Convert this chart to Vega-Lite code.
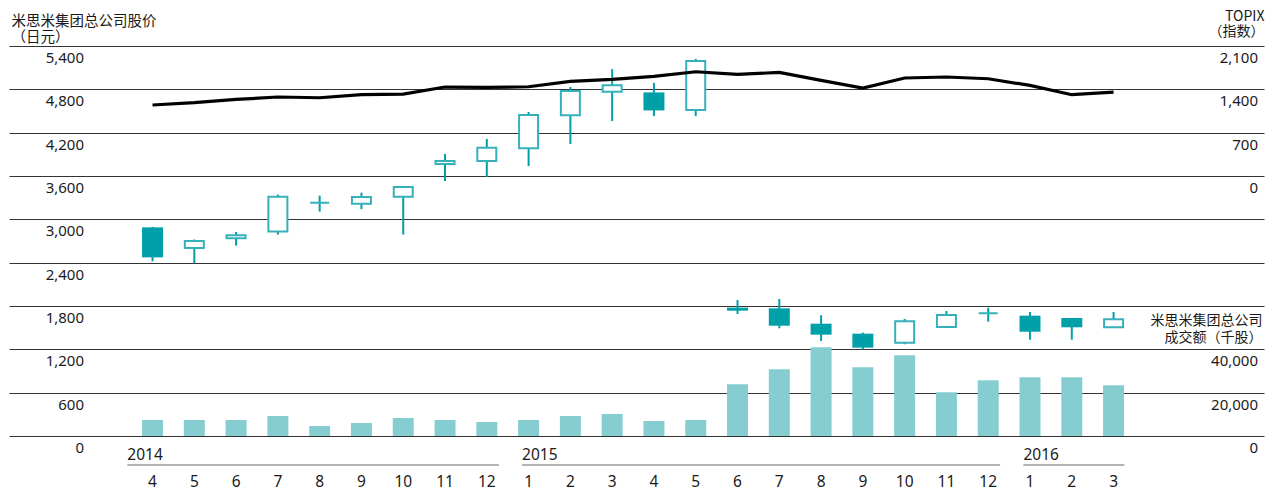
{
  "$schema": "https://vega.github.io/schema/vega-lite/v6.json",
  "width": 1255,
  "height": 390,
  "autosize": {"type": "none"},
  "padding": {"left": 9, "top": 46, "right": 5, "bottom": 51},
  "background": "white",
  "config": {
    "view": {"stroke": null},
    "scale": {"continuousPadding": 0},
    "axis": {"labelFont": "Noto Sans", "titleFont": "Noto Sans CJK SC", "labelColor": "#1a1a1a", "titleColor": "#1a1a1a", "titleFontWeight": "normal"}
  },
  "datasets": {
    "candles": [
      {"idx": 0, "month": "4", "open": 2889, "high": 2895, "low": 2418, "close": 2473, "topix": 1147, "volume": 7390},
      {"idx": 1, "month": "5", "open": 2603, "high": 2720, "low": 2393, "close": 2700, "topix": 1184, "volume": 7390},
      {"idx": 2, "month": "6", "open": 2737, "high": 2825, "low": 2636, "close": 2779, "topix": 1237, "volume": 7390},
      {"idx": 3, "month": "7", "open": 2830, "high": 3342, "low": 2789, "close": 3314, "topix": 1276, "volume": 9240},
      {"idx": 4, "month": "8", "open": 3231, "high": 3328, "low": 3107, "close": 3231, "topix": 1264, "volume": 4620},
      {"idx": 5, "month": "9", "open": 3217, "high": 3369, "low": 3140, "close": 3309, "topix": 1313, "volume": 6000},
      {"idx": 6, "month": "10", "open": 3314, "high": 3461, "low": 2789, "close": 3447, "topix": 1324, "volume": 8310},
      {"idx": 7, "month": "11", "open": 3766, "high": 3905, "low": 3531, "close": 3808, "topix": 1437, "volume": 7390},
      {"idx": 8, "month": "12", "open": 3808, "high": 4113, "low": 3586, "close": 3992, "topix": 1431, "volume": 6470},
      {"idx": 9, "month": "1", "open": 3984, "high": 4487, "low": 3737, "close": 4445, "topix": 1442, "volume": 7390},
      {"idx": 10, "month": "2", "open": 4440, "high": 4834, "low": 4042, "close": 4778, "topix": 1528, "volume": 9240},
      {"idx": 11, "month": "3", "open": 4768, "high": 5080, "low": 4361, "close": 4855, "topix": 1560, "volume": 10160},
      {"idx": 12, "month": "4", "open": 4757, "high": 4890, "low": 4430, "close": 4508, "topix": 1609, "volume": 6930},
      {"idx": 13, "month": "5", "open": 4515, "high": 5221, "low": 4430, "close": 5193, "topix": 1684, "volume": 7390},
      {"idx": 14, "month": "6", "open": 1777, "high": 1883, "low": 1689, "close": 1735, "topix": 1641, "volume": 23880},
      {"idx": 15, "month": "7", "open": 1768, "high": 1897, "low": 1491, "close": 1527, "topix": 1673, "volume": 30810},
      {"idx": 16, "month": "8", "open": 1555, "high": 1671, "low": 1315, "close": 1403, "topix": 1544, "volume": 40970},
      {"idx": 17, "month": "9", "open": 1417, "high": 1431, "low": 1200, "close": 1223, "topix": 1421, "volume": 31730},
      {"idx": 18, "month": "10", "open": 1292, "high": 1620, "low": 1270, "close": 1588, "topix": 1583, "volume": 37270},
      {"idx": 19, "month": "11", "open": 1509, "high": 1731, "low": 1505, "close": 1675, "topix": 1599, "volume": 20180},
      {"idx": 20, "month": "12", "open": 1699, "high": 1777, "low": 1583, "close": 1699, "topix": 1571, "volume": 25730},
      {"idx": 21, "month": "1", "open": 1666, "high": 1717, "low": 1333, "close": 1444, "topix": 1463, "volume": 27120},
      {"idx": 22, "month": "2", "open": 1634, "high": 1634, "low": 1333, "close": 1505, "topix": 1313, "volume": 27120},
      {"idx": 23, "month": "3", "open": 1505, "high": 1717, "low": 1505, "close": 1616, "topix": 1355, "volume": 23420}
    ],
    "years": [
      {"year": "2014", "start": -0.603, "end": 8.293},
      {"year": "2015", "start": 8.844, "end": 20.285},
      {"year": "2016", "start": 20.842, "end": 23.26}
    ]
  },
  "layer": [
    {
      "data": {"name": "candles"},
      "mark": {"type": "rule", "color": "#00A0A9", "strokeWidth": 2},
      "encoding": {
        "x": {"field": "idx", "type": "quantitative", "scale": {"domain": [-3.435, 26.6], "nice": false, "zero": false, "padding": 0}, "axis": null},
        "y": {
          "field": "low", "type": "quantitative",
          "scale": {"domain": [0, 5400], "nice": false, "zero": false},
          "axis": {
            "orient": "left",
            "values": [0, 600, 1200, 1800, 2400, 3000, 3600, 4200, 4800, 5400],
            "format": ",.0f",
            "grid": true, "gridColor": "#333333", "gridWidth": 1,
            "domain": false, "ticks": false, "tickSize": 0,
            "labelAlign": "right", "labelBaseline": "alphabetic",
            "labelPadding": -74.5, "labelOffset": 16.5, "labelFontSize": 15, "labelOverlap": false,
            "title": ["米思米集团总公司股价", "（日元）"],
            "titleAngle": 0, "titleAlign": "left", "titleBaseline": "alphabetic",
            "titleX": 2, "titleY": -21, "titleFontSize": 14.5, "titleLineHeight": 16.5
          }
        },
        "y2": {"field": "high"}
      }
    },
    {
      "data": {"name": "candles"},
      "transform": [{"filter": "datum.close < datum.open"}],
      "mark": {"type": "bar", "color": "#00A0A9", "size": 21, "orient": "vertical"},
      "encoding": {
        "x": {"field": "idx", "type": "quantitative", "axis": null},
        "y": {"field": "open", "type": "quantitative", "scale": {"domain": [0, 5400], "nice": false, "zero": false}, "axis": null},
        "y2": {"field": "close"}
      }
    },
    {
      "data": {"name": "candles"},
      "transform": [{"filter": "datum.close >= datum.open"}],
      "mark": {"type": "bar", "fill": "white", "stroke": "#36B1B9", "strokeWidth": 2, "size": 19, "orient": "vertical"},
      "encoding": {
        "x": {"field": "idx", "type": "quantitative", "axis": null},
        "y": {"field": "open", "type": "quantitative", "scale": {"domain": [0, 5400], "nice": false, "zero": false}, "axis": null},
        "y2": {"field": "close"}
      }
    },
    {
      "data": {"name": "candles"},
      "mark": {"type": "text", "font": "Noto Sans", "fontSize": 15.5, "color": "#1a1a1a", "align": "center", "baseline": "alphabetic", "dy": 50.5},
      "encoding": {
        "x": {"field": "idx", "type": "quantitative", "axis": null},
        "y": {"datum": 0, "type": "quantitative", "scale": {"domain": [0, 5400], "nice": false, "zero": false}, "axis": null},
        "text": {"field": "month"}
      }
    },
    {
      "data": {"name": "years"},
      "mark": {"type": "text", "font": "Noto Sans", "fontSize": 15.5, "color": "#1a1a1a", "align": "left", "baseline": "alphabetic", "dy": 24},
      "encoding": {
        "x": {"field": "start", "type": "quantitative", "axis": null},
        "y": {"datum": 0, "type": "quantitative", "scale": {"domain": [0, 5400], "nice": false, "zero": false}, "axis": null},
        "text": {"field": "year"}
      }
    },
    {
      "data": {"name": "years"},
      "mark": {"type": "rule", "color": "#9b9b9b", "strokeWidth": 1.6, "yOffset": 29},
      "encoding": {
        "x": {"field": "start", "type": "quantitative", "axis": null},
        "x2": {"field": "end"},
        "y": {"datum": 0, "type": "quantitative", "scale": {"domain": [0, 5400], "nice": false, "zero": false}, "axis": null}
      }
    },
    {
      "data": {"name": "candles"},
      "mark": {"type": "bar", "color": "#86CDD2", "size": 21, "orient": "vertical"},
      "encoding": {
        "x": {"field": "idx", "type": "quantitative", "axis": null},
        "y": {
          "field": "volume", "type": "quantitative", "stack": null,
          "scale": {"domain": [0, 180000], "nice": false},
          "axis": {
            "orient": "right",
            "values": [0, 20000, 40000],
            "format": ",.0f",
            "grid": false, "domain": false, "ticks": false, "tickSize": 0,
            "labelAlign": "right", "labelBaseline": "alphabetic",
            "labelPadding": -6.5, "labelOffset": 16.5, "labelFontSize": 15, "labelOverlap": false,
            "title": ["米思米集团总公司", "成交额（千股）"],
            "titleAngle": 0, "titleAlign": "right", "titleBaseline": "alphabetic",
            "titleX": -2, "titleY": 278.2, "titleFontSize": 14, "titleLineHeight": 17.5
          }
        }
      }
    },
    {
      "data": {"name": "candles"},
      "mark": {"type": "line", "color": "#000000", "strokeWidth": 3.2},
      "encoding": {
        "x": {"field": "idx", "type": "quantitative", "axis": null},
        "y": {
          "field": "topix", "type": "quantitative",
          "scale": {"domain": [-4200, 2100], "nice": false, "zero": false},
          "axis": {
            "orient": "right",
            "values": [0, 700, 1400, 2100],
            "format": ",.0f",
            "grid": false, "domain": false, "ticks": false, "tickSize": 0,
            "labelAlign": "right", "labelBaseline": "alphabetic",
            "labelPadding": -6.5, "labelOffset": 16.5, "labelFontSize": 15, "labelOverlap": false,
            "title": ["TOPIX", "（指数）"],
            "titleAngle": 0, "titleAlign": "right", "titleBaseline": "alphabetic",
            "titleX": 0, "titleY": -26, "titleFontSize": 14, "titleLineHeight": 15.5
          }
        }
      }
    }
  ],
  "resolve": {"scale": {"y": "independent"}}
}
